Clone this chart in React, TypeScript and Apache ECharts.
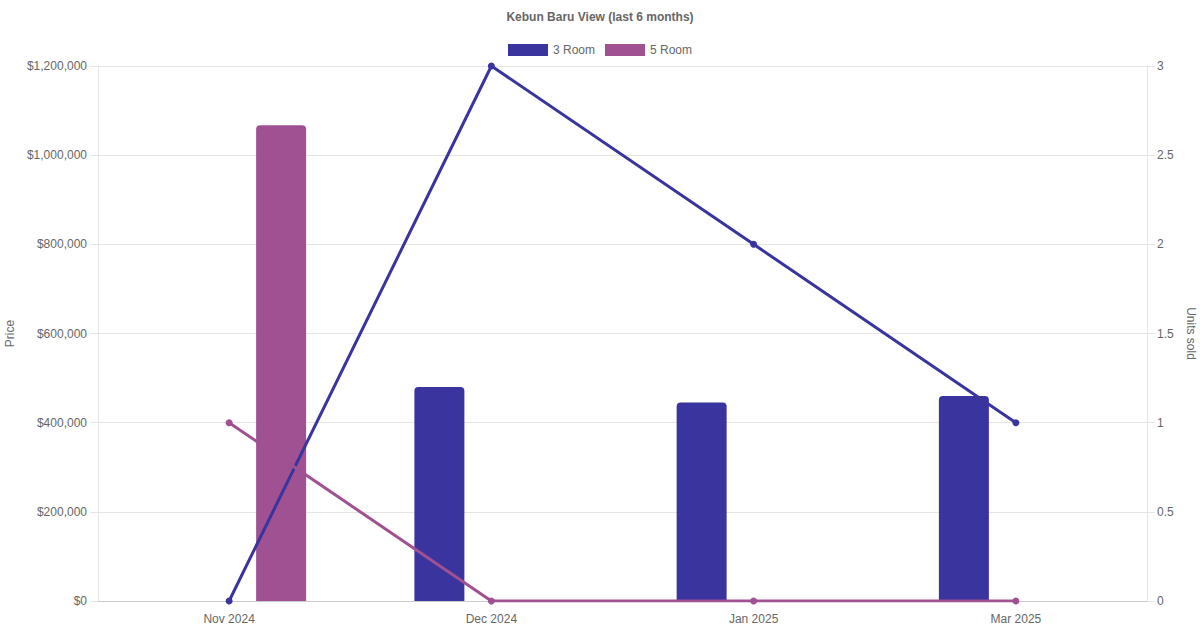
import { useEffect, useRef } from 'react';
import * as echarts from 'echarts';

// Categories and values
const months = ['Nov 2024', 'Dec 2024', 'Jan 2025', 'Mar 2025'];
const price3Room: (number | null)[] = [null, 480000, 445000, 460000];
const price5Room: (number | null)[] = [1067000, null, null, null];
const units3Room = [0, 3, 2, 1];
const units5Room = [1, 0, 0, 0];

const COLOR_3 = '#39349e';
const COLOR_5 = '#a05192';
const FONT = '"Liberation Sans", Arial, Helvetica, sans-serif';
const TEXT = '#666666';
const GRID = '#e5e5e5';

export default function App() {
  const ref = useRef<HTMLDivElement>(null);

  useEffect(() => {
    document.body.style.margin = '0';
    if (!ref.current) return;
    const chart = echarts.init(ref.current, undefined, { renderer: 'svg' });

    chart.setOption({
      animation: false,
      backgroundColor: '#ffffff',
      textStyle: { fontFamily: FONT },
      title: {
        text: 'Kebun Baru View (last 6 months)',
        left: 'center',
        top: 6,
        textStyle: { fontSize: 12, fontWeight: 'bold', color: TEXT, fontFamily: FONT },
      },
      legend: {
        top: 39,
        left: 'center',
        itemWidth: 40,
        itemHeight: 12,
        itemGap: 10,
        textStyle: { fontSize: 12, color: TEXT, fontFamily: FONT },
        data: [
          { name: '3 Room', icon: 'rect', itemStyle: { color: COLOR_3 } },
          { name: '5 Room', icon: 'rect', itemStyle: { color: COLOR_5 } },
        ],
      },
      grid: {
        left: 98,
        right: 53,
        top: 66,
        bottom: 29,
        containLabel: false,
        outerBoundsMode: 'none',
      },
      xAxis: {
        type: 'category',
        data: months,
        boundaryGap: true,
        axisLine: { show: true, lineStyle: { color: '#cccccc', width: 1 } },
        axisTick: { show: false },
        splitLine: { show: false },
        axisLabel: { color: TEXT, fontSize: 12, margin: 12, fontFamily: FONT },
      },
      yAxis: [
        {
          type: 'value',
          position: 'left',
          min: 0,
          max: 1200000,
          interval: 200000,
          name: 'Price',
          nameLocation: 'middle',
          nameRotate: 90,
          nameGap: 81,
          nameTextStyle: { color: TEXT, fontSize: 12, fontFamily: FONT },
          axisLine: { show: true, lineStyle: { color: GRID } },
          axisTick: { show: true, length: 8, lineStyle: { color: GRID } },
          splitLine: { show: true, lineStyle: { color: GRID } },
          axisLabel: {
            color: TEXT,
            fontSize: 12,
            margin: 11,
            fontFamily: FONT,
            formatter: (v: number) => `$${v.toLocaleString('en-US')}`,
          },
        },
        {
          type: 'value',
          position: 'right',
          min: 0,
          max: 3,
          interval: 0.5,
          name: 'Units sold',
          nameLocation: 'middle',
          nameRotate: -90,
          nameGap: 36,
          nameTextStyle: { color: TEXT, fontSize: 12, fontFamily: FONT },
          axisLine: { show: true, lineStyle: { color: GRID } },
          axisTick: { show: true, length: 8, lineStyle: { color: GRID } },
          splitLine: { show: false },
          axisLabel: { color: TEXT, fontSize: 12, margin: 10, fontFamily: FONT },
        },
      ],
      series: [
        {
          name: '3 Room',
          type: 'bar',
          yAxisIndex: 0,
          data: price3Room,
          barWidth: 50,
          barGap: '108%',
          itemStyle: { color: COLOR_3, borderRadius: [4, 4, 0, 0] },
        },
        {
          name: '5 Room',
          type: 'bar',
          yAxisIndex: 0,
          data: price5Room,
          barWidth: 50,
          barGap: '108%',
          itemStyle: { color: COLOR_5, borderRadius: [4, 4, 0, 0] },
        },
        {
          name: '3 Room',
          type: 'line',
          yAxisIndex: 1,
          data: units3Room,
          symbol: 'circle',
          symbolSize: 7,
          lineStyle: { color: COLOR_3, width: 3 },
          itemStyle: { color: COLOR_3 },
          z: 3,
        },
        {
          name: '5 Room',
          type: 'line',
          yAxisIndex: 1,
          data: units5Room,
          symbol: 'circle',
          symbolSize: 7,
          lineStyle: { color: COLOR_5, width: 3 },
          itemStyle: { color: COLOR_5 },
          z: 3,
        },
      ],
    });

    return () => {
      chart.dispose();
    };
  }, []);

  return <div ref={ref} style={{ width: 1200, height: 630 }} />;
}
